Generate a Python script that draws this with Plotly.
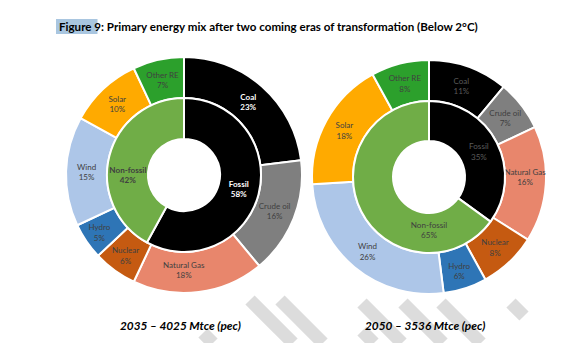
import plotly.graph_objects as go

# ---------------- data ----------------
outer_labels = ["Coal", "Crude oil", "Natural Gas", "Nuclear", "Hydro", "Wind", "Solar", "Other RE"]
outer_2035 = [23, 16, 18, 6, 5, 15, 10, 7]
outer_2050 = [11, 7, 16, 8, 6, 26, 18, 8]
inner_labels = ["Fossil", "Non-fossil"]
inner_2035 = [58, 42]
inner_2050 = [35, 65]
captions = ["2035 – 4025 Mtce (pec)", "2050 – 3536 Mtce (pec)"]
title_text = "Figure 9: Primary energy mix after two coming eras of transformation (Below 2°C)"

outer_colors = ["#000000", "#7f7f7f", "#e8866c", "#c55a11", "#2e75b6", "#adc6e8", "#ffaa00", "#2ca02c"]
inner_colors = ["#000000", "#70ad47"]

W, H = 584, 343
FONT = "Lato, 'Liberation Sans Narrow', 'DejaVu Sans Condensed', sans-serif"
DARK = "#404040"


def dom(cx, cy, r):
    return dict(x=[(cx - r) / W, (cx + r) / W], y=[(H - cy - r) / H, (H - cy + r) / H])


fig = go.Figure()

charts = [
    dict(cx=184, cy=175, R=118, r1=77, r0=36, outer=outer_2035, inner=inner_2035,
         otc=["#ffffff"] + [DARK] * 7, itc=["#ffffff", DARK], bold={"Coal", "Fossil", "Non-fossil"}),
    dict(cx=429, cy=177, R=117, r1=76, r0=36, outer=outer_2050, inner=inner_2050,
         otc=["#5a5a5a"] + [DARK] * 7, itc=["#5a5a5a", DARK], bold=set()),
]

for c in charts:
    fig.add_trace(go.Pie(
        labels=outer_labels, values=c["outer"], sort=False, direction="clockwise", rotation=0,
        hole=c["r1"] / c["R"], domain=dom(c["cx"], c["cy"], c["R"]),
        marker=dict(colors=outer_colors, line=dict(color="white", width=2)),
        text=outer_labels,
        texttemplate=[("<b>%{text}<br>%{value}%</b>" if l in c["bold"] else "%{text}<br>%{value}%") for l in outer_labels],
        textposition="inside", insidetextorientation="horizontal",
        textfont=dict(family=FONT, size=8, color=c["otc"]),
        showlegend=False, hoverinfo="label+value",
    ))
    fig.add_trace(go.Pie(
        labels=inner_labels, values=c["inner"], sort=False, direction="clockwise", rotation=0,
        hole=c["r0"] / c["r1"], domain=dom(c["cx"], c["cy"], c["r1"]),
        marker=dict(colors=inner_colors, line=dict(color="white", width=2)),
        text=inner_labels,
        texttemplate=[("<b>%{text}<br>%{value}%</b>" if l in c["bold"] else "%{text}<br>%{value}%") for l in inner_labels],
        textposition="inside", insidetextorientation="horizontal",
        textfont=dict(family=FONT, size=8.5, color=c["itc"]),
        showlegend=False, hoverinfo="label+value",
    ))

# watermark stripes (decoration)
stripes = [(250, 300, 293, 343), (280, 300, 323, 343), (362, 303, 402, 343),
           (403, 303, 443, 343), (441, 303, 481, 343), (511, 303, 524, 316),
           (203, 333, 213, 343), (362, 331, 374, 343)]
shapes = []
for x0, y0, x1, y1 in stripes:
    shapes.append(dict(type="line", xref="paper", yref="paper", layer="below",
                       x0=x0 / W, y0=1 - y0 / H, x1=x1 / W, y1=1 - y1 / H,
                       line=dict(color="#dcdcdc", width=13)))
# highlight behind "Figure 9"
shapes.append(dict(type="rect", xref="paper", yref="paper", layer="below",
                   x0=56 / W, x1=97.5 / W, y0=1 - 34 / H, y1=1 - 19 / H,
                   fillcolor="#a9c6e0", line=dict(width=0)))

annotations = [
    dict(text="<b>" + title_text + "</b>", x=57 / W, y=1 - 26.5 / H, xref="paper", yref="paper",
         xanchor="left", yanchor="middle", showarrow=False,
         font=dict(family=FONT, size=11.6, color="#000000")),
    dict(text="<b><i>" + captions[0] + "</i></b>", x=180 / W, y=1 - 325 / H, xref="paper", yref="paper",
         xanchor="center", yanchor="middle", showarrow=False,
         font=dict(family=FONT, size=11.8, color="#000000")),
    dict(text="<b><i>" + captions[1] + "</i></b>", x=425 / W, y=1 - 325 / H, xref="paper", yref="paper",
         xanchor="center", yanchor="middle", showarrow=False,
         font=dict(family=FONT, size=11.8, color="#000000")),
]

fig.update_layout(
    width=W, height=H, margin=dict(l=0, r=0, t=0, b=0),
    paper_bgcolor="white", plot_bgcolor="white",
    shapes=shapes, annotations=annotations,
    uniformtext=dict(minsize=8, mode="show"),
)

fig.write_html("out.html")
